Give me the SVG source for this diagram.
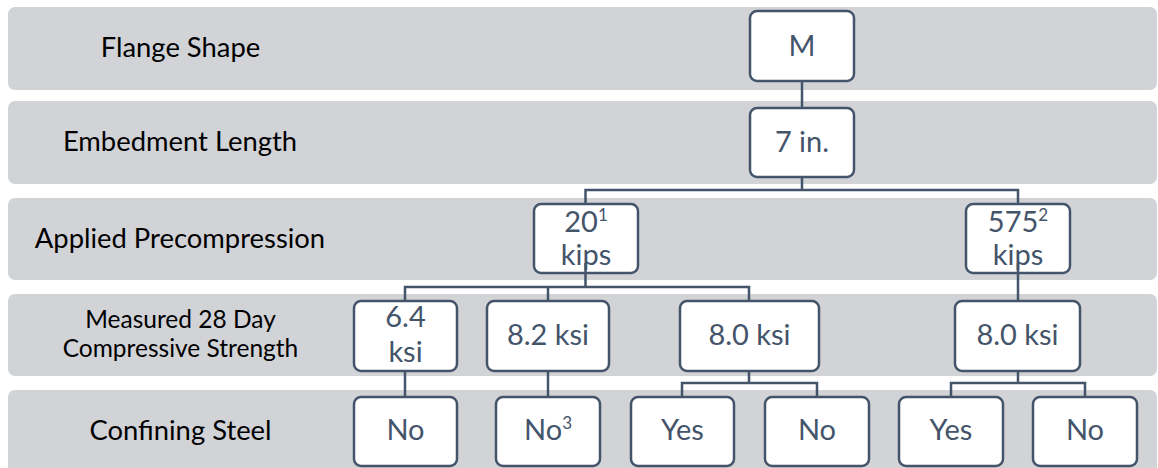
<svg xmlns="http://www.w3.org/2000/svg" width="1158" height="468" viewBox="0 0 1158 468">
  <style>
    .band { fill: #D1D3D7; }
    .label { font-family: Lato, "Liberation Sans", sans-serif; font-size: 27.4px; fill: #000000; text-anchor: middle; }
    .label-sm { font-family: Lato, "Liberation Sans", sans-serif; font-size: 24.5px; fill: #000000; text-anchor: middle; }
    .box { fill: #FFFFFF; stroke: #44546A; stroke-width: 2.5; }
    .txt { font-family: Lato, "Liberation Sans", sans-serif; font-size: 29px; fill: #44546A; text-anchor: middle; }
    .sup { font-size: 17px; }
    .wire { fill: none; stroke: #44546A; stroke-width: 2.5; }
  </style>

  <!-- level bands -->
  <g id="bands">
    <rect class="band" x="8" y="7" width="1149" height="83" rx="7"/>
    <rect class="band" x="8" y="101" width="1149" height="83" rx="7"/>
    <rect class="band" x="8" y="198" width="1149" height="82" rx="7"/>
    <rect class="band" x="8" y="294" width="1149" height="82" rx="7"/>
    <rect class="band" x="8" y="390" width="1149" height="90" rx="7"/>
  </g>

  <!-- level labels -->
  <g id="labels">
    <text class="label" x="180.5" y="57">Flange Shape</text>
    <text class="label" x="180" y="151">Embedment Length</text>
    <text class="label" x="180" y="248">Applied Precompression</text>
    <text class="label-sm" x="180.5" y="328">Measured 28 Day</text>
    <text class="label-sm" x="180.5" y="357">Compressive Strength</text>
    <text class="label" x="180.5" y="440">Confining Steel</text>
  </g>

  <!-- tree nodes -->
  <g id="node-m">
    <rect class="box" x="750" y="11" width="104" height="70" rx="7"/>
    <text class="txt" x="802" y="56">M</text>
  </g>
  <g id="node-7in">
    <rect class="box" x="750" y="108" width="104" height="69" rx="7"/>
    <text class="txt" x="802" y="152">7 in.</text>
  </g>
  <g id="node-20kips">
    <rect class="box" x="534" y="204" width="104" height="69" rx="7"/>
    <text class="txt" x="586" y="232">20<tspan class="sup" dy="-11">1</tspan></text>
    <text class="txt" x="586" y="265">kips</text>
  </g>
  <g id="node-575kips">
    <rect class="box" x="966" y="204" width="104" height="69" rx="7"/>
    <text class="txt" x="1018" y="232">575<tspan class="sup" dy="-11">2</tspan></text>
    <text class="txt" x="1018" y="265">kips</text>
  </g>
  <g id="node-6-4ksi">
    <rect class="box" x="354" y="301" width="103" height="70" rx="7"/>
    <text class="txt" x="405.5" y="327">6.4</text>
    <text class="txt" x="405.5" y="362">ksi</text>
  </g>
  <g id="node-8-2ksi">
    <rect class="box" x="487" y="301" width="122" height="70" rx="7"/>
    <text class="txt" x="548" y="345">8.2 ksi</text>
  </g>
  <g id="node-8-0ksi-a">
    <rect class="box" x="680" y="301" width="139" height="70" rx="7"/>
    <text class="txt" x="749.5" y="345">8.0 ksi</text>
  </g>
  <g id="node-8-0ksi-b">
    <rect class="box" x="955" y="301" width="125" height="70" rx="7"/>
    <text class="txt" x="1017.5" y="345">8.0 ksi</text>
  </g>
  <g id="node-no-1">
    <rect class="box" x="354" y="397" width="103" height="69" rx="7"/>
    <text class="txt" x="405.5" y="440">No</text>
  </g>
  <g id="node-no-2">
    <rect class="box" x="496" y="397" width="104" height="69" rx="7"/>
    <text class="txt" x="548" y="440">No<tspan class="sup" dy="-11">3</tspan></text>
  </g>
  <g id="node-yes-1">
    <rect class="box" x="631" y="397" width="103" height="69" rx="7"/>
    <text class="txt" x="682.5" y="440">Yes</text>
  </g>
  <g id="node-no-3">
    <rect class="box" x="765" y="397" width="104" height="69" rx="7"/>
    <text class="txt" x="817" y="440">No</text>
  </g>
  <g id="node-yes-2">
    <rect class="box" x="899" y="397" width="104" height="69" rx="7"/>
    <text class="txt" x="951" y="440">Yes</text>
  </g>
  <g id="node-no-4">
    <rect class="box" x="1033" y="397" width="104" height="69" rx="7"/>
    <text class="txt" x="1085" y="440">No</text>
  </g>

  <!-- connectors -->
  <g id="connectors" class="wire">
    <path d="M802 81 V108"/>
    <path d="M802 177 V190 M585.5 204 V190 H1018 V204"/>
    <path d="M585.5 263 V287 M405 301 V287 H749 V301 M548 287 V301"/>
    <path d="M1018 263 V301"/>
    <path d="M405 371 V397"/>
    <path d="M548 371 V397"/>
    <path d="M749 371 V383 M682 397 V383 H817 V397"/>
    <path d="M1018 371 V383 M951 397 V383 H1085 V397"/>
  </g>
</svg>
